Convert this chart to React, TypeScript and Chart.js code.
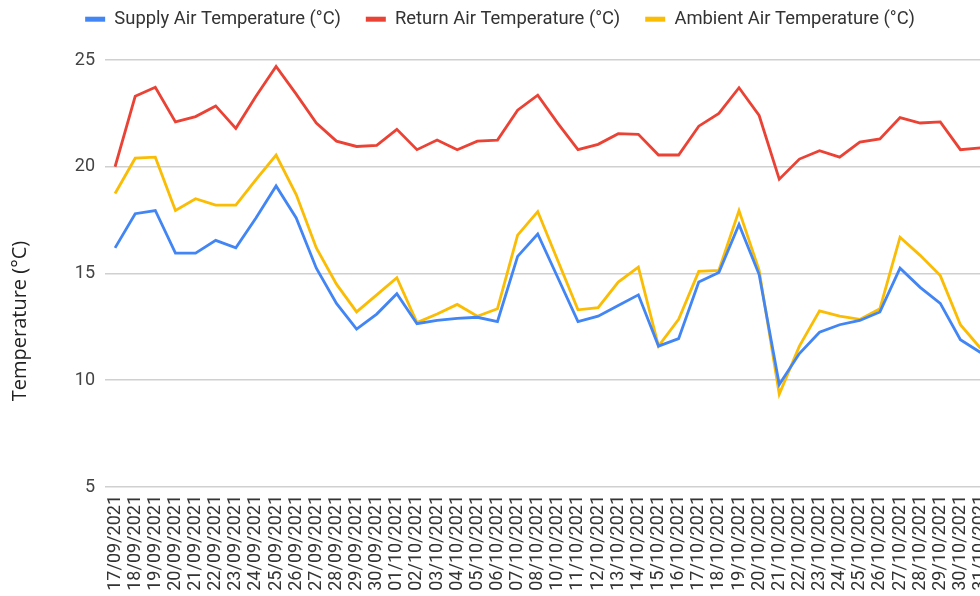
import React, { useEffect, useRef } from "react";
import { Chart, registerables } from "chart.js";

Chart.register(...registerables);

const dateLabels: string[] = [
  "17/09/2021", "18/09/2021", "19/09/2021", "20/09/2021", "21/09/2021", "22/09/2021",
  "23/09/2021", "24/09/2021", "25/09/2021", "26/09/2021", "27/09/2021", "28/09/2021",
  "29/09/2021", "30/09/2021", "01/10/2021", "02/10/2021", "03/10/2021", "04/10/2021",
  "05/10/2021", "06/10/2021", "07/10/2021", "08/10/2021", "10/10/2021", "11/10/2021",
  "12/10/2021", "13/10/2021", "14/10/2021", "15/10/2021", "16/10/2021", "17/10/2021",
  "18/10/2021", "19/10/2021", "20/10/2021", "21/10/2021", "22/10/2021", "23/10/2021",
  "24/10/2021", "25/10/2021", "26/10/2021", "27/10/2021", "28/10/2021", "29/10/2021",
  "30/10/2021", "31/10/2021",
];

const supplyAir: number[] = [
  16.2, 17.8, 17.95, 15.95, 15.95, 16.55, 16.2, 17.6, 19.1, 17.6, 15.25, 13.6,
  12.4, 13.1, 14.05, 12.65, 12.8, 12.9, 12.95, 12.75, 15.8, 16.85, 14.8, 12.75,
  13.0, 13.5, 14.0, 11.6, 11.95, 14.6, 15.05, 17.3, 14.95, 9.8, 11.25, 12.25,
  12.6, 12.8, 13.2, 15.25, 14.35, 13.6, 11.9, 11.3,
];

const returnAir: number[] = [
  20.0, 23.3, 23.72, 22.1, 22.35, 22.85, 21.8, 23.3, 24.7, 23.4, 22.05, 21.2,
  20.95, 21.0, 21.75, 20.8, 21.25, 20.8, 21.2, 21.25, 22.65, 23.35, 22.03, 20.8,
  21.05, 21.55, 21.52, 20.55, 20.55, 21.9, 22.5, 23.7, 22.4, 19.42, 20.36, 20.75,
  20.45, 21.15, 21.3, 22.3, 22.05, 22.1, 20.8, 20.88,
];

const ambientAir: number[] = [
  18.75, 20.4, 20.45, 17.95, 18.5, 18.2, 18.2, 19.4, 20.55, 18.7, 16.2, 14.5,
  13.2, 14.0, 14.8, 12.7, 13.1, 13.55, 13.0, 13.35, 16.8, 17.9, 15.6, 13.3,
  13.4, 14.6, 15.3, 11.6, 12.85, 15.1, 15.15, 17.95, 15.15, 9.35, 11.6, 13.25,
  13.0, 12.85, 13.35, 16.7, 15.85, 14.9, 12.6, 11.5,
];

const seriesNames: string[] = [
  "Supply Air Temperature (°C)",
  "Return Air Temperature (°C)",
  "Ambient Air Temperature (°C)",
];
const seriesColors: string[] = ["#4285F4", "#EA4335", "#FBBC04"];
const yTicks: number[] = [5, 10, 15, 20, 25];
const yTitle = "Temperature (°C)";

const CANVAS_W = 1000;
const CANVAS_H = 596;

export default function App() {
  const canvasRef = useRef<HTMLCanvasElement | null>(null);

  useEffect(() => {
    const canvas = canvasRef.current;
    if (!canvas) return;

    const legendMargin = {
      id: "legendMargin",
      beforeInit(chart: any) {
        const legend = chart.legend;
        if (!legend) return;
        const origFit = legend.fit;
        legend.fit = function () {
          origFit.call(this);
          this.height = 75;
        };
      },
    };

    const yTitlePlugin = {
      id: "yTitlePlugin",
      afterDraw(chart: any) {
        const ctx = chart.ctx;
        ctx.save();
        ctx.translate(20, 321);
        ctx.rotate(-Math.PI / 2);
        ctx.font = '20px "Open Sans"';
        ctx.fillStyle = "#222222";
        ctx.textAlign = "center";
        ctx.textBaseline = "middle";
        ctx.fillText(yTitle, 0, 0);
        ctx.restore();
      },
    };

    const seriesData = [supplyAir, returnAir, ambientAir];

    const chart = new Chart(canvas, {
      type: "line",
      data: {
        labels: dateLabels,
        datasets: seriesNames.map((name, i) => ({
          label: name,
          data: seriesData[i],
          borderColor: seriesColors[i],
          backgroundColor: seriesColors[i],
          borderWidth: 2.8,
          pointRadius: 0,
          pointHoverRadius: 0,
          tension: 0,
          fill: false,
        })),
      },
      options: {
        responsive: false,
        animation: false,
        layout: { padding: { top: -15, left: 0, right: 0, bottom: 0 } },
        plugins: {
          tooltip: { enabled: false },
          legend: {
            display: true,
            position: "top",
            align: "center",
            labels: {
              boxWidth: 20,
              boxHeight: 5,
              padding: 25,
              color: "#333333",
              font: { family: "Roboto", size: 18.4 },
              generateLabels(chart: any) {
                const items = Chart.defaults.plugins.legend.labels.generateLabels(chart);
                return items.map((it: any) => ({ ...it, lineWidth: 0 }));
              },
            },
          },
        },
        scales: {
          x: {
            type: "category",
            offset: true,
            grid: { display: false, drawTicks: false },
            border: { display: false },
            ticks: {
              autoSkip: false,
              minRotation: 90,
              maxRotation: 90,
              padding: 8,
              color: "#333333",
              font: { family: "Roboto", size: 18 },
            },
            afterFit(scale: any) {
              scale.height = 109;
              scale.paddingRight = 9.4;
              scale.paddingLeft = 0;
            },
          },
          y: {
            min: 5,
            max: 25,
            grid: {
              color: "#d0d0d0",
              lineWidth: 1.6,
              drawTicks: false,
            },
            border: { display: false },
            ticks: {
              stepSize: 5,
              padding: 10,
              color: "#444444",
              font: { family: "Roboto", size: 18 },
              callback: (v: any) => (yTicks.includes(Number(v)) ? String(v) : ""),
            },
            afterFit(scale: any) {
              scale.width = 105;
            },
          },
        },
      },
      plugins: [legendMargin, yTitlePlugin],
    });

    return () => {
      chart.destroy();
    };
  }, []);

  return (
    <div
      style={{
        position: "fixed",
        left: 0,
        top: 0,
        width: 980,
        height: 596,
        overflow: "hidden",
        background: "#ffffff",
      }}
    >
      <canvas
        ref={canvasRef}
        width={CANVAS_W}
        height={CANVAS_H}
        style={{ display: "block", width: CANVAS_W, height: CANVAS_H }}
      />
    </div>
  );
}
